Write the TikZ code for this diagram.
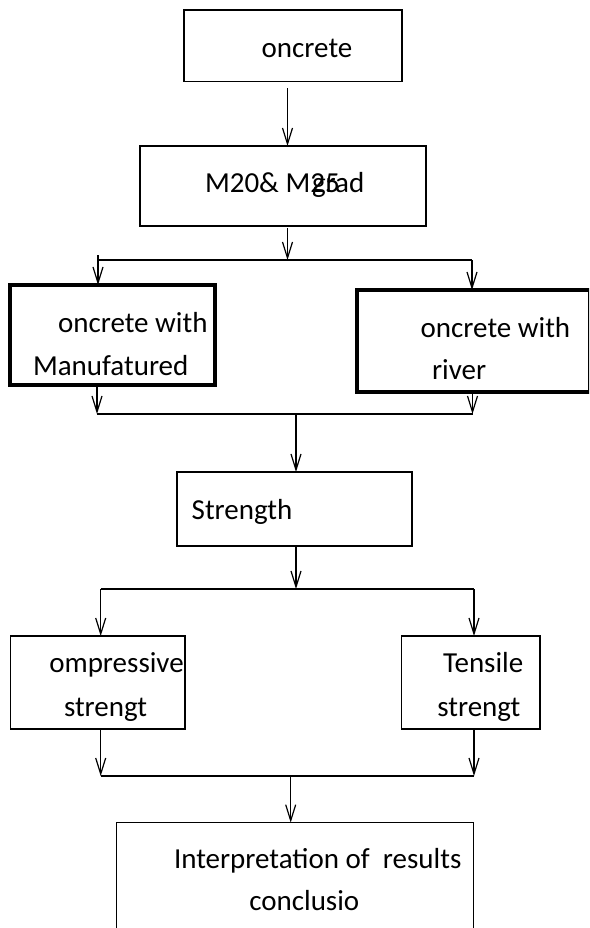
\documentclass[tikz,border=0pt]{standalone}
\usepackage{fontspec}
\setmainfont{Carlito}
\usetikzlibrary{arrows.meta}
\tikzset{
  box/.style={draw, line width=0.9pt, inner sep=0pt, outer sep=0pt, rectangle},
  thickbox/.style={draw, line width=3pt, inner sep=0pt, outer sep=0pt, rectangle},
  lbl/.style={anchor=base west, inner sep=0pt, outer sep=0pt, font=\fontsize{21.75}{26}\selectfont},
  conn/.style={line width=0.9pt},
  arr/.style={line width=0.9pt, -{Straight Barb[length=12pt,width=7.5pt,line width=0.9pt]}}
}
\begin{document}
\begin{tikzpicture}[x=0.75pt,y=-0.75pt]
\useasboundingbox (0,0) rectangle (589,928);
\clip (0,0) rectangle (589,928);

% boxes
\node[box, minimum width=163.5pt, minimum height=53.6pt] (b1) at (293,45.75) {};
\node[box, minimum width=214.5pt, minimum height=60pt] (b2) at (283,186) {};
\node[thickbox, minimum width=153.75pt, minimum height=75pt] (b3) at (112.5,335) {};
\node[thickbox, minimum width=174.75pt, minimum height=76.5pt] (b4) at (473.5,341) {};
\node[box, minimum width=176.25pt, minimum height=55.5pt] (b5) at (294.5,509) {};
\node[box, minimum width=130.7pt, minimum height=69.75pt] (b6) at (97.85,682.5) {};
\node[box, minimum width=103.7pt, minimum height=69.75pt] (b7) at (470.85,682.5) {};
\node[box, minimum width=267.5pt, minimum height=103pt] (b8) at (295,891.35) {};

% texts
\node[lbl] (t1) at (261.7,57) {oncrete};
\node[lbl] (t2) at (205,192.7) {M20\& M25};
\node[lbl] (t2b) at (312,192.7) {grad};
\node[lbl] (t3) at (58,332) {oncrete with};
\node[lbl] (t3b) at (33,375) {Manufatured};
\node[lbl] (t4) at (420.7,337.3) {oncrete with};
\node[lbl] (t4b) at (432,379) {river};
\node[lbl] (t5) at (191.7,519) {Strength};
\node[lbl] (t6) at (49.3,672.7) {ompressive};
\node[lbl] (t6b) at (64,716) {strengt};
\node[lbl] (t7) at (443,672.7) {Tensile};
\node[lbl] (t7b) at (437.3,716) {strengt};
\node[lbl] (t8) at (174,868) {Interpretation of\ \ results};
\node[lbl] (t8b) at (249.3,910) {conclusio};

% junction coordinates
\coordinate (s1) at (287.5,88);
\coordinate (s2) at (287.5,228);
\coordinate (j1) at (287.5,260);
\coordinate (j1l) at (98,260);
\coordinate (j1lt) at (98,255);
\coordinate (j1r) at (472,260);
\coordinate (s3) at (97,387);
\coordinate (s4) at (472.5,392);
\coordinate (j2l) at (97,414);
\coordinate (j2r) at (472.5,414);
\coordinate (j2m) at (296,414);
\coordinate (j3) at (296,589);
\coordinate (j3l) at (100.7,589);
\coordinate (j3r) at (474,589);
\coordinate (s6) at (100.7,729);
\coordinate (s7) at (474,729);
\coordinate (j4l) at (100.7,776);
\coordinate (j4r) at (474,776);
\coordinate (j4m) at (290.7,776);

% connectors
\draw[arr] (s1) -- (s1 |- b2.north);
\draw[arr] (s2) -- (j1);
\draw[conn] (j1l) -- (j1r);
\draw[arr] (j1lt) -- (j1lt |- b3.north);
\draw[arr] (j1r) -- (j1r |- b4.north);
\draw[arr] (s3) -- (j2l);
\draw[arr] (s4) -- (j2r);
\draw[conn] (j2l) -- (j2r);
\draw[arr] (j2m) -- (j2m |- b5.north);
\draw[arr] (b5.south -| j3) -- (j3);
\draw[conn] (j3l) -- (j3r);
\draw[arr] (j3l) -- (j3l |- b6.north);
\draw[arr] (j3r) -- (j3r |- b7.north);
\draw[arr] (s6) -- (j4l);
\draw[arr] (s7) -- (j4r);
\draw[conn] (j4l) -- (j4r);
\draw[arr] (j4m) -- (j4m |- b8.north);
\end{tikzpicture}
\end{document}
